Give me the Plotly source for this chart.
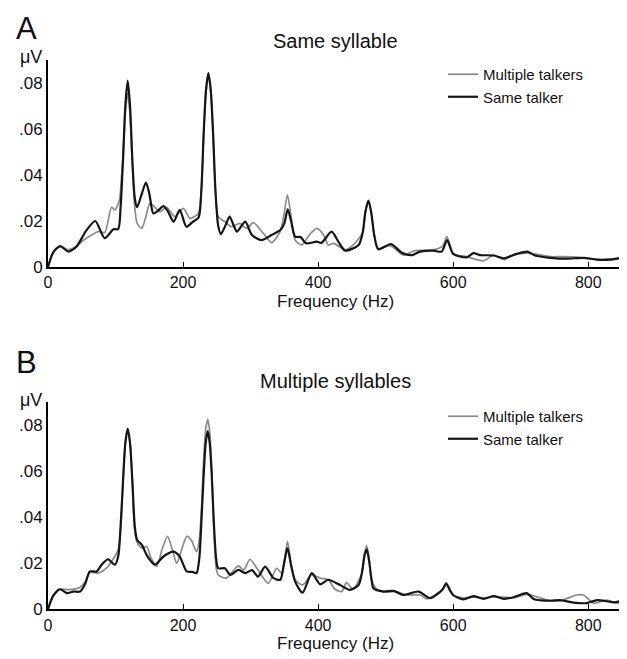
import plotly.graph_objects as go

# ---------------- data ----------------
# Panel A: Same syllable
a_multi_f = [0, 8, 18, 30, 42, 52, 62, 74.5, 84, 94, 99, 105.7, 109, 111.5, 114.5, 118, 121.5, 125, 128.5, 132,
             138.8, 145, 151, 158, 166, 175, 188, 200.5, 210, 222.7, 227, 230.5, 234, 237.5, 241, 244.5, 248, 252,
             262, 272, 284, 294, 304, 319, 331, 343.7, 349, 354.6, 360, 366, 376, 387, 398, 408, 415, 423, 440,
             452, 466, 470, 474.6, 479, 483, 489, 507, 526, 543, 566, 584, 590.6, 596, 600, 620, 645, 660, 675,
             690, 710, 744, 760, 783, 813, 832, 850]
a_multi_v = [0, 0.0065, 0.0090, 0.0075, 0.0090, 0.0115, 0.0135, 0.0154, 0.0150, 0.0260, 0.0248, 0.0290, 0.040,
             0.050, 0.067, 0.0755, 0.066, 0.044, 0.026, 0.019, 0.0168, 0.022, 0.0277, 0.0260, 0.0240, 0.0260,
             0.0219, 0.0255, 0.0212, 0.0233, 0.033, 0.057, 0.076, 0.0835, 0.076, 0.057, 0.033, 0.0219, 0.0197,
             0.0175, 0.0190, 0.0168, 0.0193, 0.0146, 0.0106, 0.0154, 0.022, 0.0313, 0.022, 0.0117, 0.0096,
             0.0140, 0.0168, 0.0140, 0.0096, 0.0103, 0.0075, 0.0096, 0.0150, 0.0240, 0.0285, 0.0230, 0.0140,
             0.0080, 0.0093, 0.0052, 0.0071, 0.0073, 0.0090, 0.0132, 0.0090, 0.0057, 0.0045, 0.0027, 0.0052,
             0.0032, 0.0052, 0.0060, 0.0045, 0.0045, 0.0043, 0.0032, 0.0035, 0.0040]

a_same_f = [0, 8, 18, 30, 42, 57, 70, 84, 97, 104, 107.5, 111, 114.5, 118, 121.5, 125, 128.5, 132, 138, 145,
            150, 156, 163, 171, 178, 186, 195, 205, 214, 223, 227, 230.5, 234, 237.5, 241, 244.5, 248, 252, 256,
            262, 269, 275, 280, 292, 302, 316, 331, 344, 350, 355, 360, 366, 374, 382, 398, 405, 420, 430, 440,
            460, 466, 470, 474.6, 479, 483, 489, 508, 524, 539, 551, 571, 583, 591, 600, 620, 630, 640, 660,
            675, 694, 710, 721, 744, 768, 793, 813, 832, 850]
a_same_v = [0, 0.0065, 0.0091, 0.0067, 0.0088, 0.0160, 0.0200, 0.0125, 0.0164, 0.0165, 0.026, 0.046, 0.070,
            0.081, 0.070, 0.046, 0.030, 0.026, 0.0310, 0.0367, 0.0320, 0.0233, 0.0245, 0.0265, 0.0240, 0.0197,
            0.0248, 0.0175, 0.0195, 0.0215, 0.033, 0.058, 0.077, 0.0843, 0.077, 0.058, 0.033, 0.018, 0.0143,
            0.0175, 0.0219, 0.0180, 0.0154, 0.0197, 0.0139, 0.0117, 0.0139, 0.0161, 0.0190, 0.0251, 0.0200,
            0.0132, 0.0130, 0.0103, 0.0110, 0.0105, 0.0154, 0.0110, 0.0071, 0.0096, 0.0150, 0.0240, 0.0289,
            0.0230, 0.0140, 0.0077, 0.0100, 0.0062, 0.0052, 0.0067, 0.0071, 0.0067, 0.0117, 0.0057, 0.0042,
            0.0060, 0.0052, 0.0050, 0.0038, 0.0057, 0.0067, 0.0050, 0.0040, 0.0036, 0.0040, 0.0032, 0.0032,
            0.0040]

# Panel B: Multiple syllables
b_multi_f = [0, 8, 17.8, 30, 47, 55, 62, 74, 87, 101.7, 105, 108, 111, 114.5, 118, 121.5, 125, 128, 132, 139,
             146, 153, 161, 169, 177, 184, 190.6, 198, 205.5, 212, 220, 224, 227.5, 230.5, 233.5, 236.5, 239.5,
             242.5, 245.5, 249, 252, 264, 275, 282, 290, 299, 311, 326, 338.8, 346, 350, 354.6, 360, 366, 377,
             390.6, 403, 415, 425, 435, 442, 452, 465, 468.5, 472, 475.5, 479, 487, 502, 516, 531, 551, 561, 584,
             590, 595, 600, 615, 630, 645, 660, 690, 709, 740, 758, 783, 793, 808, 828, 842, 850]
b_multi_v = [0, 0.0060, 0.0087, 0.0085, 0.0095, 0.0120, 0.0160, 0.0157, 0.0180, 0.0243, 0.0270, 0.036, 0.055,
             0.072, 0.0780, 0.072, 0.055, 0.035, 0.0290, 0.0265, 0.0272, 0.0220, 0.0185, 0.0260, 0.0316, 0.0260,
             0.0200, 0.0260, 0.0316, 0.0300, 0.0250, 0.030, 0.045, 0.065, 0.078, 0.0823, 0.077, 0.060, 0.036,
             0.018, 0.0149, 0.0135, 0.0170, 0.0188, 0.0171, 0.0217, 0.0171, 0.0113, 0.0178, 0.0157, 0.021,
             0.0294, 0.020, 0.0128, 0.0106, 0.0149, 0.0135, 0.0128, 0.0087, 0.0077, 0.0116, 0.0087, 0.0160,
             0.0240, 0.0275, 0.0220, 0.0130, 0.0087, 0.0075, 0.0077, 0.0062, 0.0062, 0.0045, 0.0085, 0.0106,
             0.0080, 0.0060, 0.0050, 0.0053, 0.0050, 0.0055, 0.0050, 0.0065, 0.0040, 0.0037, 0.0062, 0.0062,
             0.0027, 0.0040, 0.0027, 0.0035]

b_same_f = [0, 8, 17.8, 27.7, 37.5, 47.4, 55, 62, 72, 80, 89, 99, 104, 107.5, 111, 114.5, 118, 121.5, 125,
            128.5, 132, 138.8, 146, 152, 158.5, 171, 185.7, 195, 205.5, 214, 220, 224, 227.5, 230.5, 233.5,
            236.5, 239.5, 242.5, 245.5, 249, 252, 262, 270, 282, 292, 302, 311, 321.5, 334, 344, 349, 354.6,
            360, 366, 377, 390.6, 403, 415, 432, 447, 460, 465, 468.5, 472, 475.5, 479, 482, 497, 511.6, 526,
            548.6, 566, 584, 589.6, 595, 600, 615, 630, 645, 660, 675, 690, 709, 719, 744, 758, 778, 798, 813,
            828, 838, 850]
b_same_v = [0, 0.0060, 0.0087, 0.0070, 0.0077, 0.0077, 0.0110, 0.0164, 0.0164, 0.0195, 0.0217, 0.0193, 0.0230,
            0.036, 0.055, 0.072, 0.0783, 0.072, 0.055, 0.036, 0.0300, 0.0280, 0.0236, 0.0210, 0.0193, 0.0229,
            0.0250, 0.0229, 0.0164, 0.0162, 0.0157, 0.022, 0.040, 0.058, 0.072, 0.0773, 0.072, 0.058, 0.038,
            0.022, 0.0178, 0.0178, 0.0149, 0.0171, 0.0157, 0.0170, 0.0142, 0.0185, 0.0135, 0.0128, 0.019,
            0.0265, 0.019, 0.0120, 0.0072, 0.0157, 0.0108, 0.0128, 0.0106, 0.0084, 0.0106, 0.0160, 0.0230,
            0.0260, 0.0210, 0.0130, 0.0091, 0.0077, 0.0080, 0.0062, 0.0077, 0.0048, 0.0085, 0.0113, 0.0085,
            0.0062, 0.0043, 0.0057, 0.0045, 0.0057, 0.0045, 0.0053, 0.0070, 0.0045, 0.0037, 0.0040, 0.0029,
            0.0027, 0.0040, 0.0035, 0.0030, 0.0037]

series_names = ["Multiple talkers", "Same talker"]
panel_titles = ["Same syllable", "Multiple syllables"]
panel_letters = ["A", "B"]
x_label = "Frequency (Hz)"
y_unit = "μV"
y_tickvals = [0, 0.02, 0.04, 0.06, 0.08]
y_ticktext = ["0", ".02", ".04", ".06", ".08"]
x_tickvals = [0, 200, 400, 600, 800]

# ---------------- figure ----------------
W, H = 627, 659
OFF = 8  # the page body adds an 8px margin; target positions below are in window pixels
ML = 48 - OFF
MR = W - (622 - OFF)
FONT = "Liberation Sans, Arial, Helvetica, sans-serif"
GRAY = "#8a8a8a"
BLACK = "#151515"

fig = go.Figure()

panels = [
    (a_multi_f, a_multi_v, a_same_f, a_same_v, "x", "y", "legend"),
    (b_multi_f, b_multi_v, b_same_f, b_same_v, "x2", "y2", "legend2"),
]
for mf, mv, sf, sv, xa, ya, lg in panels:
    fig.add_trace(go.Scatter(x=mf, y=mv, mode="lines", name=series_names[0],
                             line=dict(color=GRAY, width=1.7, shape="spline", smoothing=0.7),
                             xaxis=xa, yaxis=ya, legend=lg, hoverinfo="skip"))
    fig.add_trace(go.Scatter(x=sf, y=sv, mode="lines", name=series_names[1],
                             line=dict(color=BLACK, width=2.2, shape="spline", smoothing=0.7),
                             xaxis=xa, yaxis=ya, legend=lg, hoverinfo="skip"))

def py2paper(py):  # window pixel -> paper y
    return 1 - (py - OFF) / H

def px2paper(px):  # window pixel -> paper x
    return (px - OFF - ML) / (W - ML - MR)

# plot areas (window pixels): A y 60..267, B y 402..609
domA = [py2paper(267), py2paper(60)]
domB = [py2paper(609.3), py2paper(401.7)]

xcommon = dict(range=[0, 850], tickvals=x_tickvals, ticks="inside", ticklen=5, tickwidth=1.3,
               tickcolor="black", showline=True, linecolor="black", linewidth=2, showgrid=False,
               zeroline=False, automargin=False, tickfont=dict(size=16, color="#111", family=FONT))
ycommon = dict(range=[0, 0.09], tickvals=y_tickvals, ticktext=y_ticktext, ticks="",
               showline=True, linecolor="black", linewidth=2, showgrid=False, zeroline=False,
               automargin=False, tickfont=dict(size=17, color="#111", family=FONT))

LEG_X = px2paper(443)
fig.update_layout(
    width=W, height=H,
    margin=dict(l=ML, r=MR, t=0, b=0, autoexpand=False),
    paper_bgcolor="white", plot_bgcolor="white",
    font=dict(family=FONT, color="#111"),
    xaxis=dict(**xcommon, domain=[0, 1], anchor="y"),
    yaxis=dict(**ycommon, domain=domA, anchor="x"),
    xaxis2=dict(**xcommon, domain=[0, 1], anchor="y2"),
    yaxis2=dict(**ycommon, domain=domB, anchor="x2"),
    legend=dict(x=LEG_X, y=py2paper(58), xanchor="left", yanchor="top",
                bgcolor="rgba(0,0,0,0)", font=dict(size=15, family=FONT, color="#111"),
                tracegroupgap=0, itemwidth=30),
    legend2=dict(x=LEG_X, y=py2paper(400), xanchor="left", yanchor="top",
                 bgcolor="rgba(0,0,0,0)", font=dict(size=15, family=FONT, color="#111"),
                 tracegroupgap=0, itemwidth=30),
)

ann = []
for letter, ly, lanchor, title, ty, uy, xly in [
    (panel_letters[0], OFF + 0.5, "top", panel_titles[0], 41, 57, 302),
    (panel_letters[1], 362, "middle", panel_titles[1], 381, 400, 643),
]:
    ann.append(dict(text=letter, x=px2paper(14), y=py2paper(ly), xref="paper", yref="paper",
                    xanchor="left", yanchor=lanchor, showarrow=False,
                    font=dict(size=31, family=FONT, color="#111")))
    ann.append(dict(text=title, x=px2paper(335), y=py2paper(ty), xref="paper", yref="paper",
                    xanchor="center", yanchor="middle", showarrow=False,
                    font=dict(size=20, family=FONT, color="#111")))
    ann.append(dict(text=y_unit, x=px2paper(44), y=py2paper(uy), xref="paper", yref="paper",
                    xanchor="right", yanchor="middle", showarrow=False,
                    font=dict(size=18, family=FONT, color="#111")))
    ann.append(dict(text=x_label, x=px2paper(335), y=py2paper(xly), xref="paper", yref="paper",
                    xanchor="center", yanchor="middle", showarrow=False,
                    font=dict(size=17, family=FONT, color="#111")))
fig.update_layout(annotations=ann)

fig.write_html("out.html")
